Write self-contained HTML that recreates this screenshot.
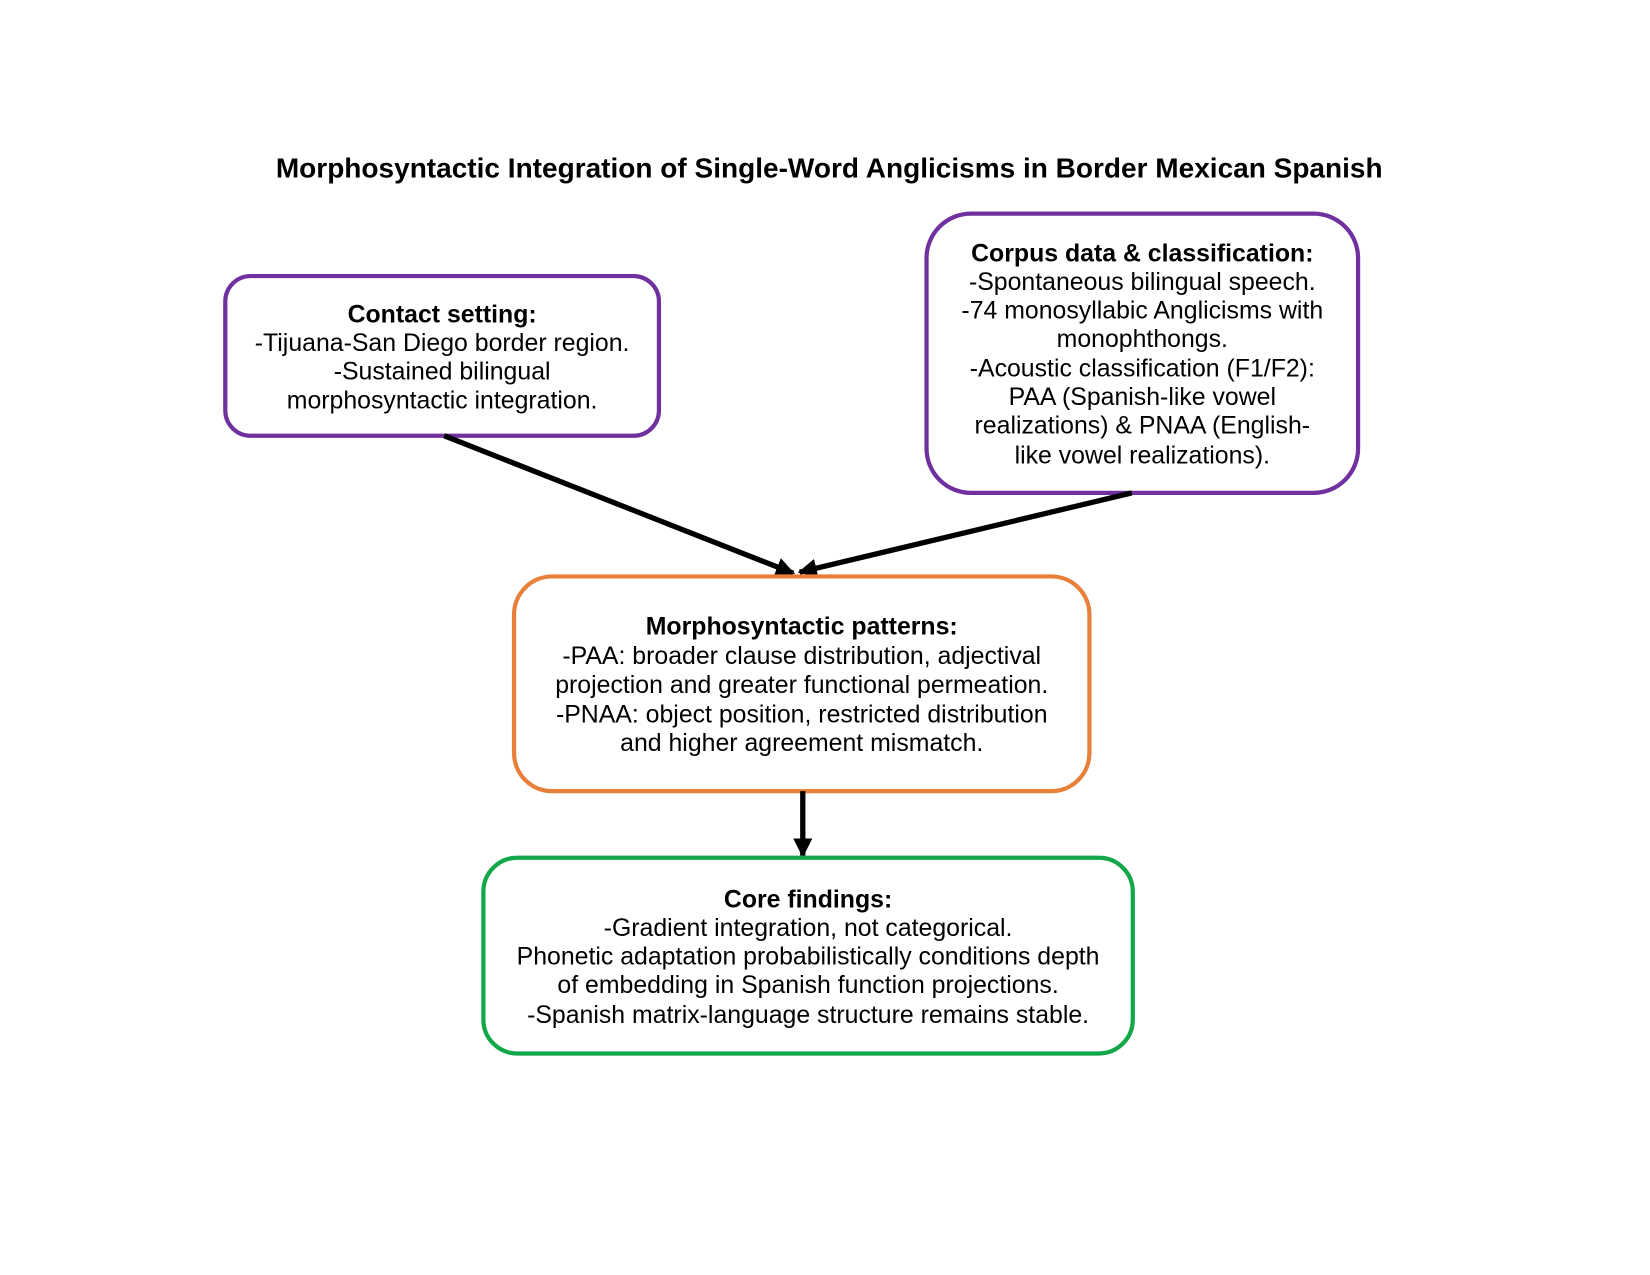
<!DOCTYPE html>
<html><head><meta charset="utf-8"><style>
body{margin:0;background:#fff}
svg{display:block}
text{font-family:"Liberation Sans",Arial,sans-serif;font-size:23.5px;fill:#000;text-anchor:middle}
.b{font-weight:bold}
</style></head><body>
<svg width="1650" height="1275" viewBox="0 0 1560 1205.45">
<defs>
<marker id="m" viewBox="0 0 10 10" markerWidth="18" markerHeight="18" refX="9" refY="5" orient="auto" markerUnits="userSpaceOnUse"><path d="M0,0 L10,5 L0,10 z" fill="#000"/></marker></defs>
<text x="784" y="168" class="b" style="font-size:26.5px">Morphosyntactic Integration of Single-Word Anglicisms in Border Mexican Spanish</text>

<rect x="213" y="261" width="410" height="151" rx="24" fill="#fff" stroke="#7030A0" stroke-width="4"/>
<text x="418" y="305" class="b">Contact setting:</text>
<text x="418" y="332">-Tijuana-San Diego border region.</text>
<text x="418" y="359">-Sustained bilingual</text>
<text x="418" y="386">morphosyntactic integration.</text>

<rect x="876" y="202" width="408" height="264" rx="42" fill="#fff" stroke="#7030A0" stroke-width="4"/>
<text x="1080" y="247" class="b">Corpus data &amp; classification:</text>
<text x="1080" y="274">-Spontaneous bilingual speech.</text>
<text x="1080" y="301">-74 monosyllabic Anglicisms with</text>
<text x="1080" y="328">monophthongs.</text>
<text x="1080" y="356">-Acoustic classification (F1/F2):</text>
<text x="1080" y="383">PAA (Spanish-like vowel</text>
<text x="1080" y="410">realizations) &amp; PNAA (English-</text>
<text x="1080" y="438">like vowel realizations).</text>

<line x1="420" y1="412" x2="750" y2="542" stroke="#000" stroke-width="5" marker-end="url(#m)"/>
<line x1="1070" y1="466" x2="756" y2="541" stroke="#000" stroke-width="5" marker-end="url(#m)"/>

<rect x="486" y="545" width="544" height="203" rx="36" fill="#fff" stroke="#E8803A" stroke-width="4"/>
<text x="758" y="600" class="b">Morphosyntactic patterns:</text>
<text x="758" y="628">-PAA: broader clause distribution, adjectival</text>
<text x="758" y="655">projection and greater functional permeation.</text>
<text x="758" y="683">-PNAA: object position, restricted distribution</text>
<text x="758" y="710">and higher agreement mismatch.</text>

<line x1="759" y1="748" x2="759" y2="809" stroke="#000" stroke-width="5" marker-end="url(#m)"/>

<rect x="457" y="811" width="614" height="185" rx="32" fill="#fff" stroke="#12A84A" stroke-width="4"/>
<text x="764" y="858" class="b">Core findings:</text>
<text x="764" y="885">-Gradient integration, not categorical.</text>
<text x="764" y="912">Phonetic adaptation probabilistically conditions depth</text>
<text x="764" y="939">of embedding in Spanish function projections.</text>
<text x="764" y="967">-Spanish matrix-language structure remains stable.</text>
</svg>
</body></html>
